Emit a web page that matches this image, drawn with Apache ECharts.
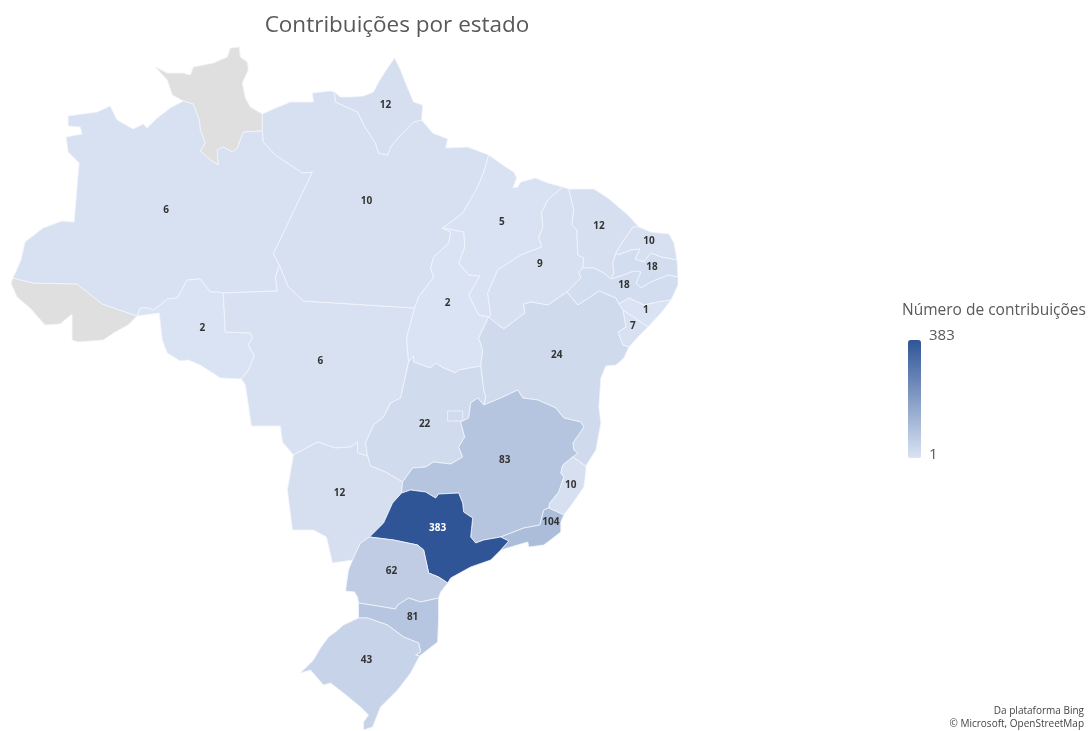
<!DOCTYPE html>
<html>
<head>
<meta charset="utf-8">
<title>Contribuições por estado</title>
<script src="https://cdn.jsdelivr.net/npm/echarts@6/dist/echarts.min.js"></script>
<style>
  html, body { margin: 0; padding: 0; background: #fff; }
  #main { width: 1091px; height: 731px; }
</style>
</head>
<body>
<div id="main"></div>
<script>
// values; RR and AC have no data and stay grey
const states = ['AM', 'AP', 'PA', 'MA', 'PI', 'CE', 'RN', 'PB', 'PE', 'AL', 'SE', 'BA', 'TO', 'GO', 'DF', 'MT', 'RO', 'MS', 'MG', 'ES', 'RJ', 'SP', 'PR', 'SC', 'RS'];
const contributions = [6, 12, 10, 5, 9, 12, 10, 18, 18, 1, 7, 24, 2, 22, 22, 6, 2, 12, 83, 10, 104, 383, 62, 81, 43];
const unlabeled = ['DF'];
const scaleMin = 1;
const scaleMax = 383;

// no map file is reachable here, so the borders are traced by hand (x, y as seen on the picture)
const arcs = {
  amN: [[13,278],[21,260],[25,242],[43,228],[62,221],[74,222],[79,163],[68,152],[66,137],[82,134],[80,127],[68,126],[68,116],[97,112],[110,106],[117,120],[133,129],[143,124],[147,128],[157,118],[170,108],[183,101]],
  rrN: [[183,101],[172,95],[167,80],[155,67],[167,73],[183,73],[190,75],[193,67],[213,63],[227,57],[230,48],[239,47],[240,57],[247,62],[248,70],[242,83],[245,98],[250,107],[262,114]],
  rrAm: [[183,101],[193,104],[199,120],[200,130],[205,143],[200,151],[210,160],[218,165],[217,150],[223,147],[232,152],[237,148],[243,132],[262,131]],
  rrPa: [[262,114],[262,131]],
  amPa: [[262,131],[263,142],[275,155],[290,165],[302,173],[312,172],[273,254],[279,265]],
  amMt: [[279,265],[275,277],[277,291],[223,293]],
  amRo: [[137,316],[140,308],[148,308],[153,310],[160,305],[167,299],[177,298],[187,280],[200,279],[210,292],[218,292],[223,293]],
  amAc: [[13,278],[33,283],[77,284],[102,304],[137,316]],
  acOut: [[13,278],[11,283],[17,297],[30,308],[45,325],[60,324],[72,314],[72,340],[78,342],[103,340],[115,332],[128,325],[137,316]],
  roOut: [[137,316],[159,313],[162,340],[167,353],[180,361],[188,360],[200,365],[220,378],[241,379]],
  roMt: [[223,293],[224,313],[225,332],[250,333],[252,338],[248,345],[254,356],[248,370],[241,379]],
  mtOut: [[241,379],[245,385],[248,405],[251,426],[280,426],[282,442],[293,455]],
  paMt: [[279,265],[288,287],[303,301],[414,308]],
  toMt: [[408,362],[406,338],[414,308]],
  goMt: [[408,362],[400,398],[390,403],[383,417],[373,425],[365,443],[367,456]],
  msMt: [[293,455],[317,442],[335,448],[350,447],[357,442],[357,453],[367,456]],
  paN: [[262,114],[273,109],[290,102],[313,102],[312,93],[330,91],[334,92]],
  apPa: [[334,92],[335,102],[357,112],[365,128],[375,143],[378,153],[387,155],[390,147],[400,135],[413,122],[421,120]],
  apOut: [[421,120],[422,105],[413,102],[407,88],[400,70],[394,58],[387,68],[378,82],[373,92],[363,96],[350,97],[340,97],[334,92]],
  paNE: [[421,120],[432,133],[447,139],[445,148],[467,147],[488,155]],
  paMa: [[488,155],[483,172],[477,187],[462,213],[442,228]],
  paTo: [[442,228],[450,232],[448,243],[433,257],[430,268],[433,277],[418,297],[414,308]],
  maTo: [[442,228],[463,232],[464,247],[458,263],[468,275],[479,276],[468,295],[478,315],[488,317]],
  maCoast: [[488,155],[502,165],[513,172],[516,178],[512,188],[517,187],[520,182],[535,178],[547,183],[562,187]],
  maPi: [[562,187],[547,200],[541,212],[542,228],[538,237],[541,247],[520,255],[497,270],[487,293],[490,315],[488,317]],
  piCoast: [[562,187],[568,189]],
  piCe: [[568,189],[573,210],[571,225],[576,230],[577,255],[583,258],[582,268]],
  piPe: [[582,268],[578,272],[580,278],[566,292]],
  piBa: [[566,292],[547,305],[530,302],[523,304],[524,313],[503,329],[495,323],[488,317]],
  toBa: [[488,317],[478,338],[482,350],[480,366]],
  toGo: [[480,366],[458,370],[455,373],[443,368],[435,363],[430,368],[413,362],[413,356],[408,362]],
  goBa: [[480,366],[483,390],[485,397],[483,405]],
  goMg: [[402,482],[412,468],[425,467],[433,462],[450,464],[462,457],[458,447],[464,437],[460,422],[468,418],[470,403],[477,398],[483,405]],
  msGo: [[367,456],[370,466],[385,472],[402,482]],
  msMg: [[402,482],[401,493]],
  msSp: [[369,537],[383,523],[392,503],[401,493]],
  msPr: [[352,560],[360,543],[369,537]],
  msOut: [[293,455],[287,490],[292,530],[313,530],[326,537],[332,563],[352,560]],
  baMg: [[483,405],[500,398],[517,390],[522,398],[537,400],[555,408],[563,418],[580,422],[583,427],[572,443],[573,450],[577,453],[572,457]],
  baEs: [[572,457],[585,466]],
  baPe: [[566,292],[577,305],[588,298],[598,291],[615,298],[618,304]],
  baAl: [[618,304],[622,310]],
  alSe: [[622,310],[647,327]],
  baSe: [[622,310],[625,327],[617,332],[622,345],[628,347]],
  seCoast: [[647,327],[637,337],[628,347]],
  baCoast: [[628,347],[623,358],[615,365],[605,366],[600,378],[598,407],[600,423],[595,450],[585,466]],
  alCoast: [[670,300],[660,313],[647,327]],
  peAl: [[618,304],[628,298],[643,305],[657,302],[670,300]],
  peCoast: [[677,277],[677,285],[670,300]],
  pbPe: [[610,279],[623,275],[633,271],[640,272],[635,283],[640,288],[650,282],[667,275],[677,277]],
  pbCoast: [[676,260],[677,277]],
  rnPb: [[615,253],[617,255],[630,250],[639,249],[634,259],[643,262],[650,253],[660,257],[676,260]],
  rnCoast: [[638,227],[650,232],[668,234],[673,243],[676,260]],
  ceCoast: [[568,189],[593,189],[607,198],[627,215],[638,227]],
  ceRn: [[638,227],[632,227],[623,240],[615,253]],
  cePb: [[615,253],[612,263],[613,273],[610,279]],
  cePe: [[610,279],[603,273],[593,268],[582,268]],
  mgEs: [[572,457],[562,465],[560,473],[563,477],[558,492],[549,503],[548,508]],
  esRj: [[548,508],[563,515]],
  esCoast: [[585,466],[585,472],[583,487],[572,503],[563,515]],
  mgRj: [[548,508],[543,510],[539,525],[523,528],[500,537]],
  rjSp: [[500,537],[508,541],[500,550]],
  rjCoast: [[500,550],[510,547],[527,542],[528,547],[543,545],[560,532],[560,522],[563,515]],
  spMg: [[401,493],[410,490],[425,492],[435,498],[438,494],[458,493],[462,503],[463,512],[472,518],[470,537],[475,543],[483,540],[500,537]],
  spCoast: [[500,550],[490,560],[470,567],[450,578],[447,583]],
  spPr: [[369,537],[393,540],[417,545],[423,550],[428,573],[438,577],[447,583]],
  prCoast: [[447,583],[440,592],[438,598]],
  prSc: [[438,598],[420,602],[408,598],[397,605],[395,609],[377,606],[358,603]],
  prOut: [[358,603],[357,597],[354,592],[345,591],[348,570],[352,560]],
  scW: [[358,618],[358,603]],
  scRs: [[358,618],[367,618],[387,625],[403,637],[418,643],[420,652],[415,655],[419,656]],
  scCoast: [[438,598],[438,617],[437,642],[419,656]],
  rsOut: [[358,618],[343,625],[335,632],[328,637],[320,648],[313,660],[305,668],[300,673],[310,670],[323,685],[330,683],[343,693],[360,707],[368,715],[363,722],[363,730],[372,727],[380,707],[397,690],[410,673],[419,656]],
  df: [[447,411],[462,411],[462,421],[447,421],[447,411]]
};

const rings = {
  RR: ['rrN', 'rrPa', '-rrAm'],
  AC: ['amAc', '-acOut'],
  AM: ['amN', 'rrAm', 'amPa', 'amMt', '-amRo', '-amAc'],
  RO: ['amRo', 'roMt', '-roOut'],
  MT: ['paMt', '-toMt', 'goMt', '-msMt', '-mtOut', '-roMt', '-amMt'],
  PA: ['paN', 'apPa', 'paNE', 'paMa', 'paTo', '-paMt', '-amPa', '-rrPa'],
  AP: ['apPa', 'apOut'],
  MA: ['maCoast', 'maPi', '-maTo', '-paMa'],
  TO: ['maTo', 'toBa', 'toGo', 'toMt', '-paTo'],
  PI: ['piCoast', 'piCe', 'piPe', 'piBa', '-maPi'],
  CE: ['ceCoast', 'ceRn', 'cePb', 'cePe', '-piCe'],
  RN: ['rnCoast', '-rnPb', '-ceRn'],
  PB: ['rnPb', 'pbCoast', '-pbPe', '-cePb'],
  PE: ['pbPe', 'peCoast', '-peAl', '-baPe', '-piPe', '-cePe'],
  AL: ['peAl', 'alCoast', '-alSe', '-baAl'],
  SE: ['alSe', 'seCoast', '-baSe'],
  BA: ['-piBa', 'baPe', 'baAl', 'baSe', 'baCoast', '-baEs', '-baMg', '-goBa', '-toBa'],
  GO: ['-toGo', 'goBa', '-goMg', '-msGo', '-goMt'],
  DF: ['df'],
  MS: ['msMt', 'msGo', 'msMg', '-msSp', '-msPr', '-msOut'],
  MG: ['goMg', 'baMg', 'mgEs', 'mgRj', '-spMg', '-msMg'],
  ES: ['baEs', 'esCoast', '-esRj', '-mgEs'],
  RJ: ['esRj', '-rjCoast', '-rjSp', '-mgRj'],
  SP: ['spMg', 'rjSp', 'spCoast', '-spPr', 'msSp'],
  PR: ['msPr', 'spPr', 'prCoast', 'prSc', 'prOut'],
  SC: ['-prSc', 'scCoast', '-scRs', 'scW'],
  RS: ['scRs', '-rsOut']
};

// where each number sits inside its state
const labelPoints = {
  AM: [166,210], AP: [385,105], PA: [366,201], MA: [501,222], PI: [539,264], CE: [598,226],
  RN: [648,241], PB: [651,267], PE: [623,285], AL: [645,310], SE: [632,326], BA: [556,355],
  TO: [447,303], GO: [424,424], MT: [320,361], RO: [202,328], MS: [339,493], MG: [504,460],
  ES: [570,485], RJ: [550,522], SP: [437,528], PR: [391,571], SC: [412,617], RS: [366,660],
  DF: [454,416], RR: [210,110], AC: [70,315]
};

function toGeo(p) {
  return [p[0], -p[1]];
}

function buildRing(names) {
  let out = [];
  names.forEach(function (n) {
    const reversed = n[0] === '-';
    const pts = arcs[reversed ? n.slice(1) : n].slice();
    if (reversed) pts.reverse();
    out = out.concat(pts);
  });
  out.push(out[0]);
  return out.map(toGeo);
}

const brasil = {
  type: 'FeatureCollection',
  features: Object.keys(rings).map(function (name) {
    return {
      type: 'Feature',
      properties: { name: name, cp: toGeo(labelPoints[name]) },
      geometry: { type: 'Polygon', coordinates: [buildRing(rings[name])] }
    };
  })
};

echarts.registerMap('brasil', brasil);

const fontFamily = '"Open Sans", "Noto Sans", sans-serif';
const chart = echarts.init(document.getElementById('main'));

const mapData = states.map(function (name, i) {
  return {
    name: name,
    value: contributions[i],
    label: {
      show: unlabeled.indexOf(name) < 0,
      color: contributions[i] === scaleMax ? '#ffffff' : '#333333'
    }
  };
});

const option = {
  animation: false,
  backgroundColor: '#ffffff',
  title: [
    {
      text: 'Contribuições por estado',
      left: 392, top: 9, textAlign: 'center',
      textStyle: { fontFamily: fontFamily, fontSize: 22.5, fontWeight: 'normal', color: '#595959' }
    },
    {
      text: 'Número de contribuições',
      left: 897, top: 298,
      textStyle: { fontFamily: fontFamily, fontSize: 15.5, fontWeight: 'normal', color: '#595959' }
    },
    {
      text: String(scaleMax),
      left: 924, top: 323,
      textStyle: { fontFamily: fontFamily, fontSize: 15, fontWeight: 'normal', color: '#595959' }
    },
    {
      text: String(scaleMin),
      left: 924, top: 442,
      textStyle: { fontFamily: fontFamily, fontSize: 15, fontWeight: 'normal', color: '#595959' }
    },
    {
      text: 'Da plataforma Bing\n© Microsoft, OpenStreetMap',
      left: 1079, top: 700, textAlign: 'right',
      textStyle: { fontFamily: fontFamily, fontSize: 10, lineHeight: 13, fontWeight: 'normal', color: '#444444', align: 'right' }
    }
  ],
  visualMap: {
    type: 'continuous',
    min: scaleMin,
    max: scaleMax,
    left: 893,
    top: 325,
    itemWidth: 13,
    itemHeight: 118,
    calculable: false,
    realtime: false,
    text: null,
    showLabel: false,
    borderRadius: 0,
    inRange: { color: ['#dae3f3', '#2f5597'] },
    textStyle: { color: 'transparent' }
  },
  series: [
    {
      type: 'map',
      map: 'brasil',
      roam: false,
      silent: true,
      aspectScale: 1,
      left: 11,
      top: 47,
      width: 667,
      height: 683,
      itemStyle: { areaColor: '#dfdfdf', borderColor: '#f2f5fb', borderWidth: 0.8 },
      label: {
        show: true,
        fontFamily: fontFamily,
        fontSize: 10,
        fontWeight: 'bold',
        color: '#333333',
        formatter: function (p) {
          return isNaN(p.value) ? '' : String(p.value);
        }
      },
      data: mapData
    }
  ]
};

option && chart.setOption(option);
</script>
</body>
</html>
